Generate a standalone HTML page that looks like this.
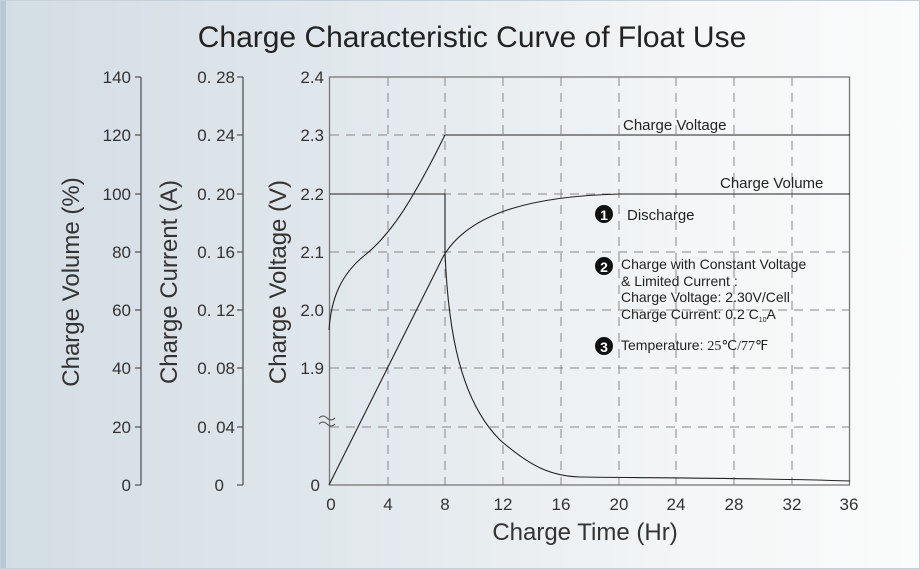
<!DOCTYPE html>
<html><head><style>
html,body{margin:0;padding:0}
body{width:920px;height:569px;overflow:hidden;background:linear-gradient(90deg,#d3dde4 0%,#e4eaee 45%,#f4f6f7 75%,#fafbfb 100%);font-family:"Liberation Sans",sans-serif}
</style></head><body>
<svg width="920" height="569" xmlns="http://www.w3.org/2000/svg" style="position:absolute;left:0;top:0">
<rect x="0" y="0" width="6" height="569" fill="#b8c8d6"/>
<rect x="0.5" y="0.5" width="919" height="568" fill="none" stroke="#c5d0d8"/>
<text x="472" y="47" font-size="30" text-anchor="middle" fill="#222">Charge Characteristic Curve of Float Use</text>
<g font-size="17" fill="#333" text-anchor="end">
<text x="131" y="83">140</text><text x="131" y="141">120</text><text x="131" y="200">100</text><text x="131" y="258">80</text><text x="131" y="316">60</text><text x="131" y="374">40</text><text x="131" y="433">20</text><text x="131" y="491">0</text>
<text x="235" y="83">0. 28</text><text x="235" y="141">0. 24</text><text x="235" y="200">0. 20</text><text x="235" y="258">0. 16</text><text x="235" y="316">0. 12</text><text x="235" y="374">0. 08</text><text x="235" y="433">0. 04</text><text x="224" y="491">0</text>
<text x="324" y="83">2.4</text><text x="324" y="141">2.3</text><text x="324" y="200">2.2</text><text x="324" y="258">2.1</text><text x="324" y="316">2.0</text><text x="324" y="374">1.9</text><text x="320" y="491">0</text>
</g>
<g stroke="#555" stroke-width="1.3" fill="none">
<path d="M141,77V485M135,77H141M135,135H141M135,194H141M135,252H141M135,310H141M135,368H141M135,427H141M135,485H141"/>
<path d="M243,77V485M237,77H243M237,135H243M237,194H243M237,252H243M237,310H243M237,368H243M237,427H243M237,485H243"/>
<rect x="329.5" y="77" width="520" height="408" stroke="#777"/>
</g>
<g stroke="#888" stroke-width="1" stroke-dasharray="9,7" fill="none">
<path d="M388,77V485M445,77V485M503,77V485M561,77V485M619,77V485M676,77V485M734,77V485M792,77V485"/>
<path d="M330,135H849M330,194H849M330,252H849M330,310H849M330,368H849M330,427H849"/>
</g>
<path d="M319,418q4,-4 8,0t8,0M319,424q4,-4 8,0t8,0" stroke="#555" fill="none"/>
<g font-size="17" fill="#333" text-anchor="middle">
<text x="331" y="510">0</text><text x="388" y="510">4</text><text x="445" y="510">8</text><text x="503" y="510">12</text><text x="561" y="510">16</text><text x="619" y="510">20</text><text x="676" y="510">24</text><text x="734" y="510">28</text><text x="792" y="510">32</text><text x="849" y="510">36</text>
</g>
<text x="585" y="540" font-size="24" text-anchor="middle" fill="#333">Charge Time (Hr)</text>
<g font-size="24" fill="#333" text-anchor="middle">
<text transform="translate(79,282) rotate(-90)">Charge Volume (%)</text>
<text transform="translate(177,282) rotate(-90)">Charge Current (A)</text>
<text transform="translate(286,282) rotate(-90)">Charge Voltage (V)</text>
</g>
<g stroke="#222" stroke-width="1.1" fill="none">
<path d="M329,330C331,300 340,275 365,255C380,243 395,225 410,200C425,175 435,155 445,135H850"/>
<path d="M330,194H445V252C448,330 460,400 500,440C530,466 550,476 580,477C660,478 760,478 850,481"/>
<path d="M329,485L443,257C470,210 540,196 620,194H850"/>
</g>
<g font-size="15" fill="#222">
<text x="623" y="130">Charge Voltage</text>
<text x="720" y="188">Charge Volume</text>
<text x="627" y="220">Discharge</text>
<text x="621" y="269" font-size="14">Charge with  Constant Voltage</text>
<text x="621" y="286" font-size="14">&amp; Limited Current :</text>
<text x="621" y="302" font-size="14">Charge Voltage: 2.30V/Cell</text>
<text x="621" y="319" font-size="14">Charge Current: 0.2  C<tspan font-size="7" dy="3">10</tspan><tspan dy="-3">A</tspan></text>
<text x="621" y="350" font-size="14">Temperature: <tspan font-family="Liberation Serif">25℃/77℉</tspan></text>
</g>
<g>
<circle cx="604" cy="214" r="9" fill="#111"/><text x="604" y="220" font-size="14" font-weight="bold" fill="#fff" text-anchor="middle">1</text>
<circle cx="604" cy="266" r="9" fill="#111"/><text x="604" y="272" font-size="14" font-weight="bold" fill="#fff" text-anchor="middle">2</text>
<circle cx="604" cy="346" r="9" fill="#111"/><text x="604" y="352" font-size="14" font-weight="bold" fill="#fff" text-anchor="middle">3</text>
</g>
</svg>
</body></html>
